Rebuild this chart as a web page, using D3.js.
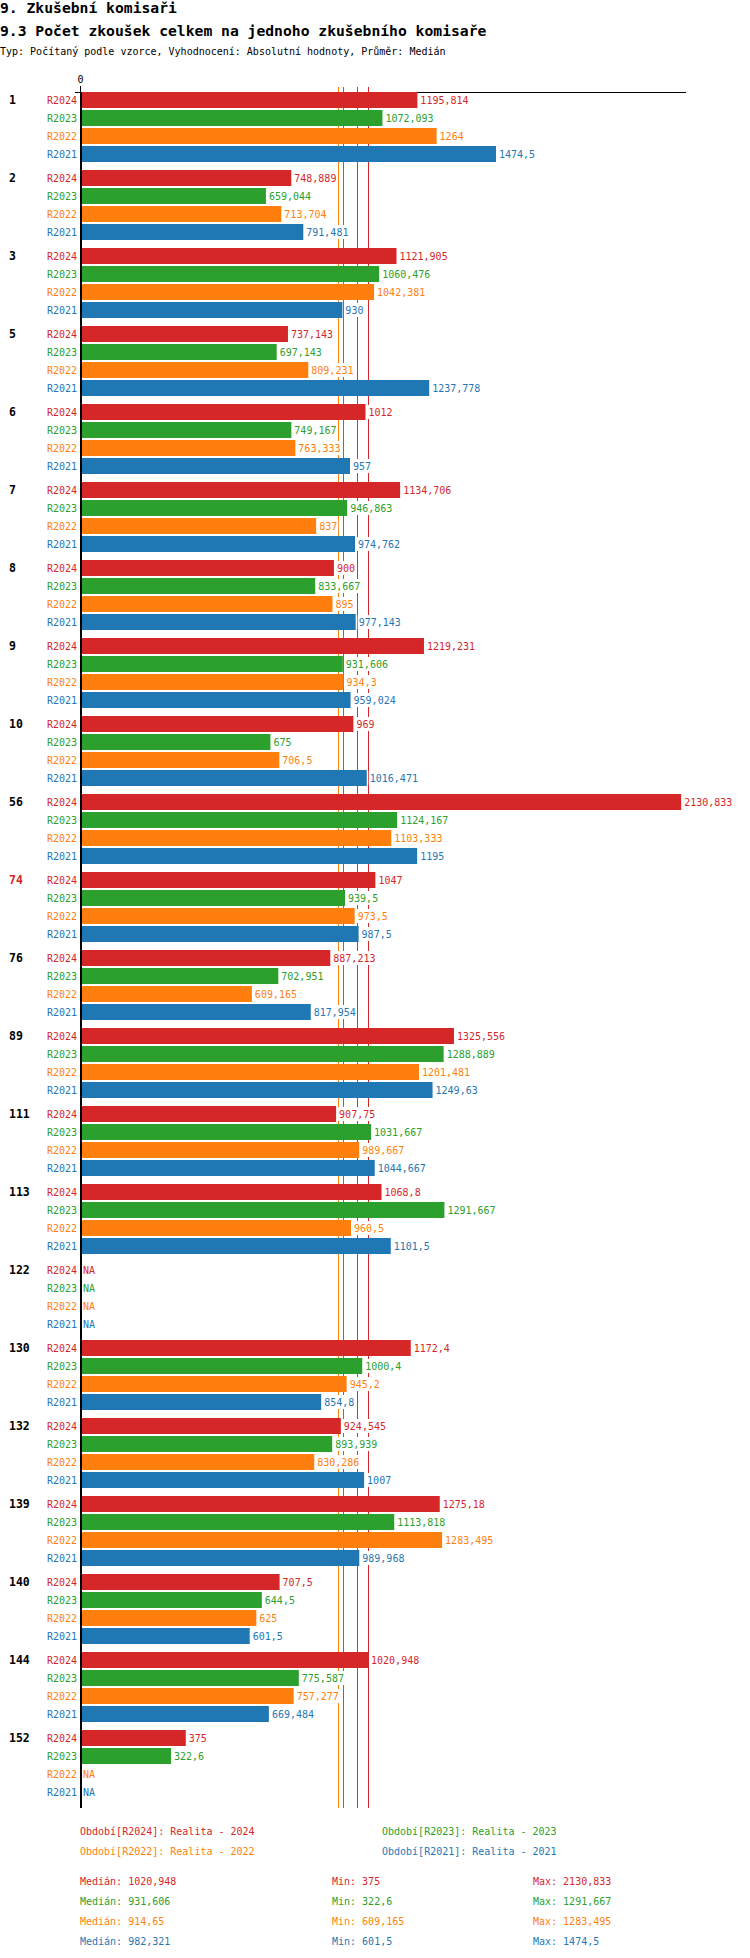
<!DOCTYPE html>
<html>
<head>
<meta charset="utf-8">
<script src="https://cdn.jsdelivr.net/npm/d3@7/dist/d3.min.js"></script>
<style>
  body { margin: 0; background: #fff; }
  svg { display: block; }
  text { font-family: "DejaVu Sans Mono", "Liberation Mono", monospace; }
</style>
</head>
<body>
<svg id="chart" width="750" height="1958"></svg>
<script>
// ---------- DATA ----------
const groups = ["1","2","3","5","6","7","8","9","10","56","74","76","89","111","113","122","130","132","139","140","144","152"];
const highlighted = ["74"];
const series = ["R2024","R2023","R2022","R2021"];
const seriesNames = ["Realita - 2024","Realita - 2023","Realita - 2022","Realita - 2021"];
const colors = ["#d62728","#2ca02c","#ff7f0e","#1f77b4"];

const r2024 = [1195.814, 748.889, 1121.905, 737.143, 1012, 1134.706, 900, 1219.231, 969, 2130.833, 1047, 887.213, 1325.556, 907.75, 1068.8, null, 1172.4, 924.545, 1275.18, 707.5, 1020.948, 375];
const r2023 = [1072.093, 659.044, 1060.476, 697.143, 749.167, 946.863, 833.667, 931.606, 675, 1124.167, 939.5, 702.951, 1288.889, 1031.667, 1291.667, null, 1000.4, 893.939, 1113.818, 644.5, 775.587, 322.6];
const r2022 = [1264, 713.704, 1042.381, 809.231, 763.333, 837, 895, 934.3, 706.5, 1103.333, 973.5, 609.165, 1201.481, 989.667, 960.5, null, 945.2, 830.286, 1283.495, 625, 757.277, null];
const r2021 = [1474.5, 791.481, 930, 1237.778, 957, 974.762, 977.143, 959.024, 1016.471, 1195, 987.5, 817.954, 1249.63, 1044.667, 1101.5, null, 854.8, 1007, 989.968, 601.5, 669.484, null];
const values = [r2024, r2023, r2022, r2021];

const medians = [1020.948, 931.606, 914.65, 982.321];
const mins = [375, 322.6, 609.165, 601.5];
const maxs = [2130.833, 1291.667, 1283.495, 1474.5];

const xDomainMax = 2148;
const titleText = "9. Zkušební komisaři";
const subtitleText = "9.3 Počet zkoušek celkem na jednoho zkušebního komisaře";
const infoText = "Typ: Počítaný podle vzorce, Vyhodnocení: Absolutní hodnoty, Průměr: Medián";

// ---------- HELPERS ----------
const fmt = v => v == null ? "NA" : String(+v.toFixed(3)).replace(".", ",");

// ---------- LAYOUT ----------
const svg = d3.select("#chart");
const topY = 92, bottomY = 1808;
const x = d3.scaleLinear().domain([0, xDomainMax]).range([80, 686]);
const yG = d3.scaleBand().domain(groups).range([topY, bottomY]).paddingInner(0).paddingOuter(0);
const yS = d3.scaleBand().domain(series).range([0, 70]).paddingInner(1/9).paddingOuter(0);

// titles
svg.append("text").attr("x", 0).attr("y", 13).attr("font-size", 14.7).attr("font-weight", "bold").attr("fill", "#000").text(titleText);
svg.append("text").attr("x", 0).attr("y", 36).attr("font-size", 14.7).attr("font-weight", "bold").attr("fill", "#000").text(subtitleText);
svg.append("text").attr("x", 0).attr("y", 55).attr("font-size", 10).attr("fill", "#000").text(infoText);

// median lines (behind bars)
svg.append("g").selectAll("line").data(medians).join("line")
  .attr("x1", d => Math.round(x(d)) + 0.5).attr("x2", d => Math.round(x(d)) + 0.5)
  .attr("y1", 87).attr("y2", bottomY)
  .attr("stroke", (d, i) => colors[i]).attr("stroke-width", 1);

// top axis
const axisG = svg.append("g").attr("transform", `translate(0,${topY})`)
  .call(d3.axisTop(x).tickValues([0]).tickSize(6).tickSizeOuter(0).tickFormat(d3.format("d")));
axisG.select(".domain").remove();
axisG.selectAll("text").attr("font-size", 10).attr("font-family", "DejaVu Sans Mono, monospace").attr("fill", "#000");
axisG.selectAll(".tick line").attr("stroke", "#000");
svg.append("line").attr("x1", 75).attr("x2", x.range()[1]).attr("y1", topY + 0.5).attr("y2", topY + 0.5)
  .attr("stroke", "#000").attr("stroke-width", 1);

// groups
const gGroups = svg.append("g").selectAll("g").data(groups).join("g")
  .attr("transform", d => `translate(0,${yG(d)})`);

gGroups.append("text")
  .attr("x", 9).attr("y", yS("R2024") + yS.bandwidth() / 2).attr("dy", "0.35em")
  .attr("font-size", 11.5).attr("font-weight", "bold")
  .attr("fill", d => highlighted.includes(d) ? "#d62728" : "#000")
  .text(d => d);

gGroups.each(function(g, gi) {
  const sel = d3.select(this);
  series.forEach((s, si) => {
    const v = values[si][gi];
    const yy = yS(s);
    sel.append("text")
      .attr("x", 77).attr("y", yy + yS.bandwidth() / 2).attr("dy", "0.35em")
      .attr("text-anchor", "end").attr("font-size", 10).attr("fill", colors[si]).text(s);
    if (v != null) {
      sel.append("rect")
        .attr("x", x(0)).attr("y", yy)
        .attr("width", x(v) - x(0)).attr("height", yS.bandwidth())
        .attr("fill", colors[si]);
    }
    const lx = (v != null ? x(v) : x(0)) + 3;
    const bg = sel.append("rect").attr("fill", "#fff");
    const t = sel.append("text")
      .attr("x", lx).attr("y", yy + yS.bandwidth() / 2).attr("dy", "0.35em")
      .attr("font-size", 10).attr("fill", colors[si]).text(fmt(v));
    const w = t.node().getComputedTextLength();
    bg.attr("x", lx - 1).attr("y", yy + 1).attr("width", w + 2).attr("height", yS.bandwidth() - 2);
  });
});

// vertical axis line
svg.append("line").attr("x1", 81).attr("x2", 81).attr("y1", topY).attr("y2", bottomY)
  .attr("stroke", "#000").attr("stroke-width", 2);

// legend
const legX = [80, 382];
series.forEach((s, i) => {
  svg.append("text")
    .attr("x", legX[i % 2]).attr("y", 1831 + Math.floor(i / 2) * 20).attr("dy", "0.35em")
    .attr("font-size", 10).attr("fill", colors[i])
    .text(`Období[${s}]: ${seriesNames[i]}`);
});

// stats
const statX = [80, 332, 533];
series.forEach((s, i) => {
  const yy = 1881 + i * 20;
  [["Medián: ", medians[i]], ["Min: ", mins[i]], ["Max: ", maxs[i]]].forEach((p, j) => {
    svg.append("text").attr("x", statX[j]).attr("y", yy).attr("dy", "0.35em")
      .attr("font-size", 10).attr("fill", colors[i]).text(p[0] + fmt(p[1]));
  });
});
</script>
</body>
</html>
